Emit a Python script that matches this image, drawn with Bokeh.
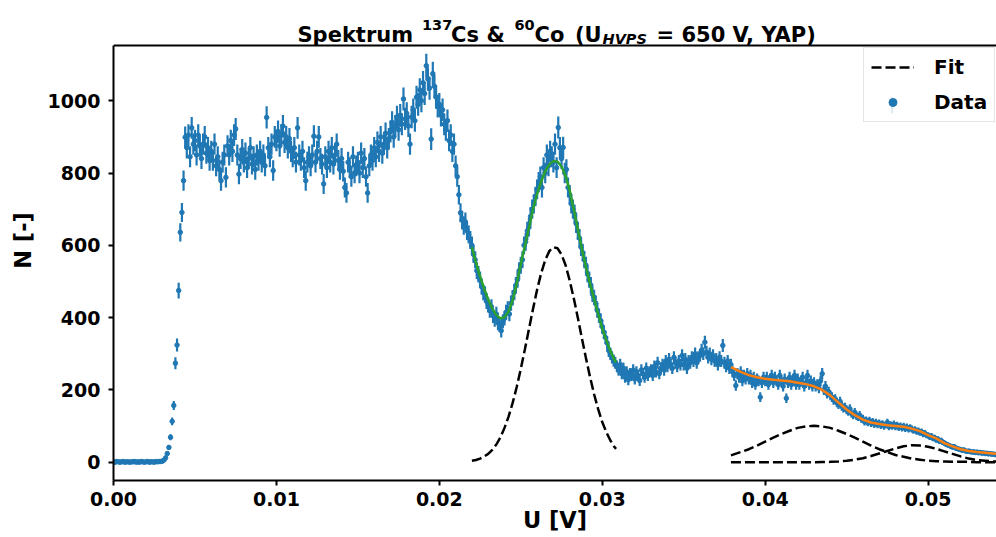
import numpy as np
from bokeh.plotting import figure
from bokeh.models import (ColumnDataSource, FixedTicker, PrintfTickFormatter, Legend,
                          LegendItem, Label, BoxAnnotation, Span)
from bokeh.embed import file_html
from bokeh.resources import INLINE

# ---------------- data ----------------
# histogram channels: U = U_START + i * U_STEP
U_START = 0.0
U_STEP = 0.0001

counts = [
    1, 0, 2, 1, 0, 1, 2, 0, 1, 1,
    0, 1, 1, 2, 0, 1, 0, 2, 1, 0,
    1, 2, 0, 1, 1, 0, 2, 1, 2, 2,
    3, 6, 12, 24, 41, 69, 113, 157, 274, 324,
    475, 636, 691, 779, 899, 870, 905, 845, 925, 880,
    890, 850, 905, 875, 840, 880, 900, 855, 870, 835,
    860, 835, 880, 820, 845, 810, 779, 830, 850, 788,
    875, 850, 890, 860, 905, 922, 850, 797, 840, 865,
    830, 855, 815, 840, 870, 825, 845, 810, 850, 835,
    860, 830, 850, 820, 954, 870, 845, 880, 807, 900,
    890, 915, 875, 905, 930, 885, 900, 870, 895, 860,
    845, 870, 830, 925, 850, 835, 860, 815, 779, 830,
    845, 820, 850, 902, 830, 860, 900, 840, 825, 770,
    845, 815, 860, 830, 870, 825, 850, 880, 835, 810,
    840, 805, 760, 745, 830, 815, 790, 845, 800, 820,
    830, 800, 855, 815, 840, 790, 745, 820, 850, 835,
    870, 845, 885, 860, 900, 855, 880, 910, 870, 895,
    915, 940, 900, 930, 955, 920, 960, 935, 1005, 950,
    965, 930, 880, 955, 975, 945, 1010, 990, 1030, 1000,
    1050, 1020, 1097, 1060, 1035, 894, 1075, 1040, 1010, 985,
    990, 960, 975, 935, 920, 945, 890, 905, 860, 880,
    820, 790, 740, 690, 670, 655, 665, 640, 630, 615,
    600, 575, 560, 530, 520, 505, 485, 470, 465, 445,
    435, 420, 430, 405, 395, 410, 385, 380, 364, 390,
    398, 415, 425, 410, 440, 455, 470, 490, 505, 530,
    545, 560, 600, 610, 640, 650, 680, 700, 715, 735,
    755, 775, 790, 760, 815, 800, 850, 820, 860, 845,
    830, 880, 815, 926, 870, 840, 871, 800, 810, 760,
    740, 715, 700, 687, 660, 640, 620, 595, 580, 560,
    545, 520, 505, 490, 465, 456, 440, 420, 405, 392,
    375, 360, 345, 330, 309, 300, 290, 281, 275, 265,
    255, 270, 245, 260, 235, 250, 228, 245, 240, 255,
    230, 250, 240, 226, 255, 245, 235, 260, 240, 250,
    255, 240, 265, 250, 275, 245, 260, 270, 255, 280,
    265, 285, 270, 260, 290, 275, 265, 280, 270, 295,
    270, 285, 260, 280, 275, 290, 280, 300, 275, 290,
    295, 310, 300, 332, 305, 290, 300, 285, 295, 280,
    285, 270, 290, 280, 323, 275, 265, 280, 260, 270,
    250, 240, 212, 245, 235, 250, 225, 240, 230, 245,
    230, 240, 220, 235, 215, 230, 225, 180, 220, 235,
    225, 235, 215, 230, 240, 220, 235, 225, 215, 240,
    225, 210, 230, 177, 220, 235, 215, 225, 240, 215,
    230, 215, 225, 235, 210, 220, 240, 215, 225, 210,
    220, 210, 215, 205, 225, 245, 200, 210, 190, 195,
    185, 180, 172, 175, 165, 160, 168, 155, 150, 152,
    145, 140, 148, 135, 130, 138, 128, 125, 130, 120,
    120, 112, 116, 110, 115, 108, 112, 105, 110, 104,
    108, 102, 106, 100, 104, 110, 98, 103, 100, 105,
    98, 102, 96, 100, 95, 99, 93, 97, 92, 95,
    92, 88, 90, 85, 87, 82, 84, 78, 80, 75,
    74, 70, 72, 66, 68, 62, 64, 58, 60, 55,
    53, 50, 48, 46, 44, 42, 43, 39, 38, 36,
    35, 33, 34, 31, 30, 31, 29, 28, 29, 27,
    28, 26, 27, 25, 26, 24, 25, 23, 24, 22,
    23, 21, 22,
]

count_err = [
    1, 0, 1.4, 1, 0, 1, 1.4, 0, 1, 1,
    0, 1, 1, 1.4, 0, 1, 0, 1.4, 1, 0,
    1, 1.4, 0, 1, 1, 0, 1.4, 1, 1.4, 1.4,
    1.7, 2.4, 3.5, 4.9, 6.4, 8.3, 10.6, 12.5, 16.6, 18,
    21.8, 25.2, 26.3, 27.9, 30, 29.5, 30.1, 29.1, 30.4, 29.7,
    29.8, 29.2, 30.1, 29.6, 29, 29.7, 30, 29.2, 29.5, 28.9,
    29.3, 28.9, 29.7, 28.6, 29.1, 28.5, 27.9, 28.8, 29.2, 28.1,
    29.6, 29.2, 29.8, 29.3, 30.1, 30.4, 29.2, 28.2, 29, 29.4,
    28.8, 29.2, 28.5, 29, 29.5, 28.7, 29.1, 28.5, 29.2, 28.9,
    29.3, 28.8, 29.2, 28.6, 30.9, 29.5, 29.1, 29.7, 28.4, 30,
    29.8, 30.2, 29.6, 30.1, 30.5, 29.7, 30, 29.5, 29.9, 29.3,
    29.1, 29.5, 28.8, 30.4, 29.2, 28.9, 29.3, 28.5, 27.9, 28.8,
    29.1, 28.6, 29.2, 30, 28.8, 29.3, 30, 29, 28.7, 27.7,
    29.1, 28.5, 29.3, 28.8, 29.5, 28.7, 29.2, 29.7, 28.9, 28.5,
    29, 28.4, 27.6, 27.3, 28.8, 28.5, 28.1, 29.1, 28.3, 28.6,
    28.8, 28.3, 29.2, 28.5, 29, 28.1, 27.3, 28.6, 29.2, 28.9,
    29.5, 29.1, 29.7, 29.3, 30, 29.2, 29.7, 30.2, 29.5, 29.9,
    30.2, 30.7, 30, 30.5, 30.9, 30.3, 31, 30.6, 31.7, 30.8,
    31.1, 30.5, 29.7, 30.9, 31.2, 30.7, 31.8, 31.5, 32.1, 31.6,
    32.4, 31.9, 33.1, 32.6, 32.2, 29.9, 32.8, 32.2, 31.8, 31.4,
    31.5, 31, 31.2, 30.6, 30.3, 30.7, 29.8, 30.1, 29.3, 29.7,
    28.6, 28.1, 27.2, 26.3, 25.9, 25.6, 25.8, 25.3, 25.1, 24.8,
    24.5, 24, 23.7, 23, 22.8, 22.5, 22, 21.7, 21.6, 21.1,
    20.9, 20.5, 20.7, 20.1, 19.9, 20.2, 19.6, 19.5, 19.1, 19.7,
    19.9, 20.4, 20.6, 20.2, 21, 21.3, 21.7, 22.1, 22.5, 23,
    23.3, 23.7, 24.5, 24.7, 25.3, 25.5, 26.1, 26.5, 26.7, 27.1,
    27.5, 27.8, 28.1, 27.6, 28.5, 28.3, 29.2, 28.6, 29.3, 29.1,
    28.8, 29.7, 28.5, 30.4, 29.5, 29, 29.5, 28.3, 28.5, 27.6,
    27.2, 26.7, 26.5, 26.2, 25.7, 25.3, 24.9, 24.4, 24.1, 23.7,
    23.3, 22.8, 22.5, 22.1, 21.6, 21.4, 21, 20.5, 20.1, 19.8,
    19.4, 19, 18.6, 18.2, 17.6, 17.3, 17, 16.8, 16.6, 16.3,
    16, 16.4, 15.7, 16.1, 15.3, 15.8, 15.1, 15.7, 15.5, 16,
    15.2, 15.8, 15.5, 15, 16, 15.7, 15.3, 16.1, 15.5, 15.8,
    16, 15.5, 16.3, 15.8, 16.6, 15.7, 16.1, 16.4, 16, 16.7,
    16.3, 16.9, 16.4, 16.1, 17, 16.6, 16.3, 16.7, 16.4, 17.2,
    16.4, 16.9, 16.1, 16.7, 16.6, 17, 16.7, 17.3, 16.6, 17,
    17.2, 17.6, 17.3, 18.2, 17.5, 17, 17.3, 16.9, 17.2, 16.7,
    16.9, 16.4, 17, 16.7, 18, 16.6, 16.3, 16.7, 16.1, 16.4,
    15.8, 15.5, 14.6, 15.7, 15.3, 15.8, 15, 15.5, 15.2, 15.7,
    15.2, 15.5, 14.8, 15.3, 14.7, 15.2, 15, 13.4, 14.8, 15.3,
    15, 15.3, 14.7, 15.2, 15.5, 14.8, 15.3, 15, 14.7, 15.5,
    15, 14.5, 15.2, 13.3, 14.8, 15.3, 14.7, 15, 15.5, 14.7,
    15.2, 14.7, 15, 15.3, 14.5, 14.8, 15.5, 14.7, 15, 14.5,
    14.8, 14.5, 14.7, 14.3, 15, 15.7, 14.1, 14.5, 13.8, 14,
    13.6, 13.4, 13.1, 13.2, 12.8, 12.6, 13, 12.4, 12.2, 12.3,
    12, 11.8, 12.2, 11.6, 11.4, 11.7, 11.3, 11.2, 11.4, 11,
    11, 10.6, 10.8, 10.5, 10.7, 10.4, 10.6, 10.2, 10.5, 10.2,
    10.4, 10.1, 10.3, 10, 10.2, 10.5, 9.9, 10.1, 10, 10.2,
    9.9, 10.1, 9.8, 10, 9.7, 9.9, 9.6, 9.8, 9.6, 9.7,
    9.6, 9.4, 9.5, 9.2, 9.3, 9.1, 9.2, 8.8, 8.9, 8.7,
    8.6, 8.4, 8.5, 8.1, 8.2, 7.9, 8, 7.6, 7.7, 7.4,
    7.3, 7.1, 6.9, 6.8, 6.6, 6.5, 6.6, 6.2, 6.2, 6,
    5.9, 5.7, 5.8, 5.6, 5.5, 5.6, 5.4, 5.3, 5.4, 5.2,
    5.3, 5.1, 5.2, 5, 5.1, 4.9, 5, 4.8, 4.9, 4.7,
    4.8, 4.6, 4.7,
]

# Cs-137 photopeak fit (green) and its Gaussian component (dashed)
cs_fit_u = [0.02200, 0.02225, 0.02250, 0.02275, 0.02300, 0.02325, 0.02350, 0.02375,
            0.02400, 0.02425, 0.02450, 0.02475, 0.02500, 0.02525, 0.02550, 0.02575,
            0.02600, 0.02625, 0.02650, 0.02675, 0.02700, 0.02725, 0.02750, 0.02775,
            0.02800, 0.02825, 0.02850, 0.02875, 0.02900, 0.02925, 0.02950, 0.02975,
            0.03000, 0.03025, 0.03050, 0.03075, 0.03085]
cs_fit_total = [595, 553, 515, 480, 450, 425, 407, 398, 401, 417, 448, 494, 548, 598,
                648, 700, 742, 776, 805, 824, 833, 832, 818, 792, 752, 700, 645, 590,
                540, 494, 452, 410, 370, 337, 308, 283, 276]
cs_fit_gauss = [4, 6, 10, 16, 23, 34, 49, 69, 95, 126, 164, 208, 258, 312, 368, 424,
                477, 523, 559, 584, 595, 592, 575, 545, 503, 454, 400, 343, 288, 236,
                188, 147, 111, 83, 60, 42, 37]

# Co-60 region fit (orange) and its two Gaussian components (dashed)
co_fit_u = [0.0379, 0.0385, 0.0390, 0.0395, 0.0400, 0.0405, 0.0410, 0.0415, 0.0420,
            0.0425, 0.0430, 0.0435, 0.0440, 0.0445, 0.0450, 0.0455, 0.0460, 0.0465,
            0.0470, 0.0475, 0.0480, 0.0485, 0.0490, 0.0495, 0.0500, 0.0505, 0.0510,
            0.0515, 0.0520, 0.0525, 0.0530, 0.0535, 0.0540, 0.0542]
co_fit_total = [263, 250, 241, 235, 231, 228, 226, 224, 220, 216, 210, 200, 185, 165,
                146, 130, 118, 110, 106, 102, 100, 98, 93, 86, 75, 66, 53, 44, 36, 31,
                28, 26, 24, 23]
co_fit_gauss1 = [19, 28, 36, 46, 57, 68, 78, 87, 95, 99, 101, 99, 95, 87, 78, 68, 57,
                 46, 36, 28, 20, 15, 10, 7, 4, 3, 2, 1, 1, 1, 0, 0, 0, 0]
co_fit_gauss2 = [0, 0, 0, 0, 0, 0, 0, 0, 0, 0, 0, 0.5, 1, 2, 4, 7, 11, 17, 24, 31, 38,
                 44, 47, 46, 43, 37, 30, 23, 16, 10, 6, 4, 2, 2]

x_ticks = [0.0, 0.01, 0.02, 0.03, 0.04, 0.05]
y_ticks = [0, 200, 400, 600, 800, 1000]

# axis limits of the plotting box
X_MIN, X_MAX = 0.0, 0.0542
Y_MIN, Y_TOP = -50.6, 1153
Y_CANVAS_TOP = 1277.4   # range extended upward so the title sits inside the canvas frame

# vertical error-bar sample drawn over the "Data" legend entry (legend decoration)
LEGEND_BAR_LEFT, LEGEND_BAR_RIGHT = 0.04772, 0.04786
LEGEND_BAR_BOTTOM, LEGEND_BAR_TOP = 965, 1009

# ---------------- styling ----------------
BLUE = "#1f77b4"
GREEN = "#2ca02c"
ORANGE = "#ff7f0e"
FONT = "DejaVu Sans"
DASH = "10 4"

n = np.array(counts, dtype=float)
e = np.array(count_err, dtype=float)
u = U_START + np.arange(len(counts)) * U_STEP
src = ColumnDataSource(dict(u=u, n=n, lo=n - e, hi=n + e))

p = figure(width=996, height=537, x_range=(X_MIN, X_MAX), y_range=(Y_MIN, Y_CANVAS_TOP),
           min_border_left=113, min_border_right=0, min_border_top=0,
           min_border_bottom=57, toolbar_location=None, output_backend="svg",
           title=None)
p.outline_line_color = None
p.grid.visible = False
p.background_fill_color = "white"
p.border_fill_color = "white"

p.segment(x0="u", y0="lo", x1="u", y1="hi", source=src, line_color=BLUE, line_width=2.2)
data_r = p.scatter(x="u", y="n", source=src, size=4.5, marker="circle",
                   fill_color=BLUE, line_color=BLUE)

p.line(cs_fit_u, cs_fit_total, line_color=GREEN, line_width=2.5)
p.line(co_fit_u, co_fit_total, line_color=ORANGE, line_width=2.5)
fit_r = p.line(cs_fit_u, cs_fit_gauss, line_color="black", line_width=2.5, line_dash=DASH)
p.line(co_fit_u, co_fit_gauss1, line_color="black", line_width=2.5, line_dash=DASH)
p.line(co_fit_u, co_fit_gauss2, line_color="black", line_width=2.5, line_dash=DASH)

# axes
p.xaxis.ticker = FixedTicker(ticks=x_ticks)
p.xaxis.formatter = PrintfTickFormatter(format="%.2f")
p.yaxis.ticker = FixedTicker(ticks=y_ticks)
p.yaxis.bounds = (Y_MIN, Y_TOP)
for ax in (p.xaxis, p.yaxis):
    ax.axis_line_width = 2
    ax.axis_line_color = "black"
    ax.major_tick_line_width = 2
    ax.major_tick_line_color = "black"
    ax.major_tick_out = 5
    ax.major_tick_in = 0
    ax.minor_tick_line_color = None
    ax.major_label_text_font = FONT
    ax.major_label_text_font_style = "bold"
    ax.major_label_text_font_size = "19px"
    ax.major_label_text_color = "black"
    ax.axis_label_text_font = FONT
    ax.axis_label_text_font_style = "bold"
    ax.axis_label_text_font_size = "22.5px"
    ax.axis_label_text_color = "black"
p.xaxis.major_label_standoff = 6
p.yaxis.major_label_standoff = 8
p.xaxis.axis_label = "U [V]"
p.yaxis.axis_label = "N [-]"
p.xaxis.axis_label_standoff = -2
p.yaxis.axis_label_standoff = 9

# top edge of the plotting box
p.add_layout(Span(location=Y_TOP, dimension="width", line_color="black", line_width=2))

# legend
legend = Legend(items=[LegendItem(label="Fit", renderers=[fit_r]),
                       LegendItem(label="Data", renderers=[data_r])],
                location=(750, 358), orientation="vertical", margin=0, padding=7,
                spacing=11, glyph_width=43, glyph_height=20, label_height=20,
                label_standoff=20, label_text_font=FONT, label_text_font_style="bold",
                label_text_font_size="20px", label_text_color="black",
                border_line_color="#cccccc", border_line_width=1,
                background_fill_color="white", background_fill_alpha=0.85)
p.add_layout(legend)
p.add_layout(BoxAnnotation(left=LEGEND_BAR_LEFT, right=LEGEND_BAR_RIGHT,
                           bottom=LEGEND_BAR_BOTTOM, top=LEGEND_BAR_TOP, level="overlay",
                           fill_color=BLUE, fill_alpha=1.0, line_color=None))

# title made of pieces (super/subscripts)
def add_text(x, y, text, size, style="bold"):
    p.add_layout(Label(x=x, y=y, x_units="screen", y_units="screen", text=text,
                       text_font=FONT, text_font_style=style, text_font_size=size,
                       text_color="black", text_align="left", text_baseline="alphabetic"))

MAIN, SCRIPT = "21px", "14.5px"
add_text(184, 445.3, "Spektrum", MAIN)
add_text(308.5, 455.3, "137", SCRIPT)
add_text(337.5, 445.3, "Cs", MAIN)
add_text(373, 445.3, "&", MAIN)
add_text(401, 455.3, "60", SCRIPT)
add_text(421, 445.3, "Co", MAIN)
add_text(461.5, 445.3, "(U", MAIN)
add_text(489, 441.5, "HVPS", SCRIPT, style="bold italic")
add_text(543, 445.3, "= 650 V, YAP)", MAIN)

open("out.html", "w").write(file_html(p, INLINE))
